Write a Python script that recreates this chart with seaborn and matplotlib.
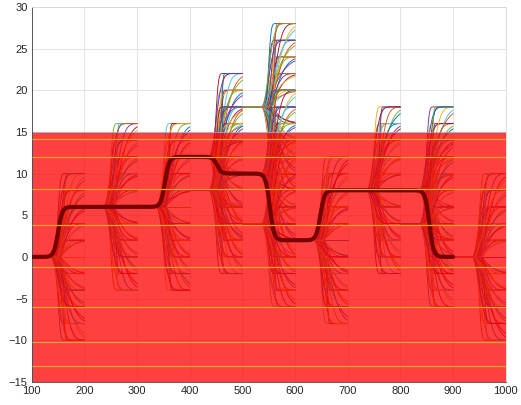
import numpy as np
import pandas as pd
import matplotlib
matplotlib.use("Agg")
import matplotlib.pyplot as plt
import seaborn as sns
from matplotlib.patches import Rectangle

# ---- data ----
seg_starts = [100, 200, 300, 400, 500, 600, 700, 800, 900]
seg_levels = [[0], [6], [6], [12, 8], [18, 10, 4], [2], [8], [8, 4], [0]]
offsets = [-10, -8, -6, -4, -2, 0, 2, 4, 6, 8, 10]

# shape variants of the branch curves (onset after segment start, time constant, power)
var_onset = [40, 44, 47, 50, 42, 52, 36]
var_tau = [11, 14, 20, 24, 30, 9, 18]
var_pow = [3.0, 2.5, 2.0, 1.6, 1.4, 4.0, 2.2]

# chosen (thick) trajectory
path_times = [100, 200, 300, 400, 500, 600, 700, 800]
path_from = [0, 6, 6, 12, 10, 2, 8, 8]
path_to = [6, 6, 12, 10, 2, 8, 8, 0]
path_center = [50, 50, 53, 52, 52, 48, 50, 55]
path_width = [4, 4, 4, 4, 4, 4, 4, 4]

band_levels = [14.2, 12.0, 8.2, 3.8, -1.2, -6.0, -10.2, -13.1]

xticks = list(range(100, 1001, 100))
yticks = list(range(-15, 31, 5))

matlab_colors = ["#0072BD", "#D95319", "#EDB120", "#7E2F8E", "#77AC30", "#4DBEEE", "#A2142F"]

# ---- build long-form tables ----
rows_x, rows_y, rows_id = [], [], []
cid = 0
colors = []
for si, t0 in enumerate(seg_starts):
    xs = np.arange(t0, t0 + 101, 1.0)
    for s in seg_levels[si]:
        for oi, d in enumerate(offsets):
            for vi in range(len(var_onset)):
                u = np.clip(xs - t0 - var_onset[vi], 0, None) / var_tau[vi]
                g = 1 - np.exp(-(u ** var_pow[vi]))
                rows_x.append(xs)
                rows_y.append(s + d * g)
                rows_id.append(np.full(xs.size, cid))
                colors.append(matlab_colors[(cid * 3 + oi + si) % len(matlab_colors)])
                cid += 1
branches = pd.DataFrame({"x": np.concatenate(rows_x),
                         "y": np.concatenate(rows_y),
                         "curve": np.concatenate(rows_id)})

px, py = [], []
for i, t0 in enumerate(path_times):
    xs = np.arange(t0, t0 + 100.5, 0.5)
    g = 1 / (1 + np.exp(-(xs - t0 - path_center[i]) / path_width[i]))
    px.append(xs)
    py.append(path_from[i] + (path_to[i] - path_from[i]) * g)
path = pd.DataFrame({"x": np.concatenate(px), "y": np.concatenate(py)})

# ---- draw ----
sns.set_style("white")
plt.rcParams["font.family"] = ["Liberation Sans", "DejaVu Sans"]

fig = plt.figure(figsize=(5.21, 4.05), dpi=100)
ax = fig.add_axes([0.061, 0.057, 0.9097, 0.926])

ax.set_axisbelow(True)
ax.grid(True, color="#e3e3e3", linewidth=0.7, zorder=0)

sns.lineplot(data=branches, x="x", y="y", hue="curve", units="curve",
             estimator=None, palette=colors, legend=False, linewidth=0.65,
             ax=ax, zorder=1)

ax.add_patch(Rectangle((100, -15), 900, 30, facecolor=(1, 0, 0, 0.75),
                       edgecolor=(0.55, 0.78, 0.85, 0.8), linewidth=0.6, zorder=2))

sns.lineplot(data=path, x="x", y="y", color="#760000", linewidth=3.0,
             estimator=None, ax=ax, zorder=3)

ax.hlines(band_levels, 100, 1000, color="#f0a030", linewidth=0.9, zorder=4)

ax.set_xlim(100, 1000)
ax.set_ylim(-15, 30)
ax.set_xticks(xticks)
ax.set_yticks(yticks)
ax.set_xlabel("")
ax.set_ylabel("")
ax.tick_params(axis="both", direction="in", length=3, width=0.5,
               labelsize=8, colors="#262626", pad=3)
for side in ["left", "bottom"]:
    ax.spines[side].set_color("#404040")
    ax.spines[side].set_linewidth(0.6)
for side in ["top", "right"]:
    ax.spines[side].set_color("#d8d8d8")
    ax.spines[side].set_linewidth(0.6)

fig.savefig("out.png", dpi=100)
